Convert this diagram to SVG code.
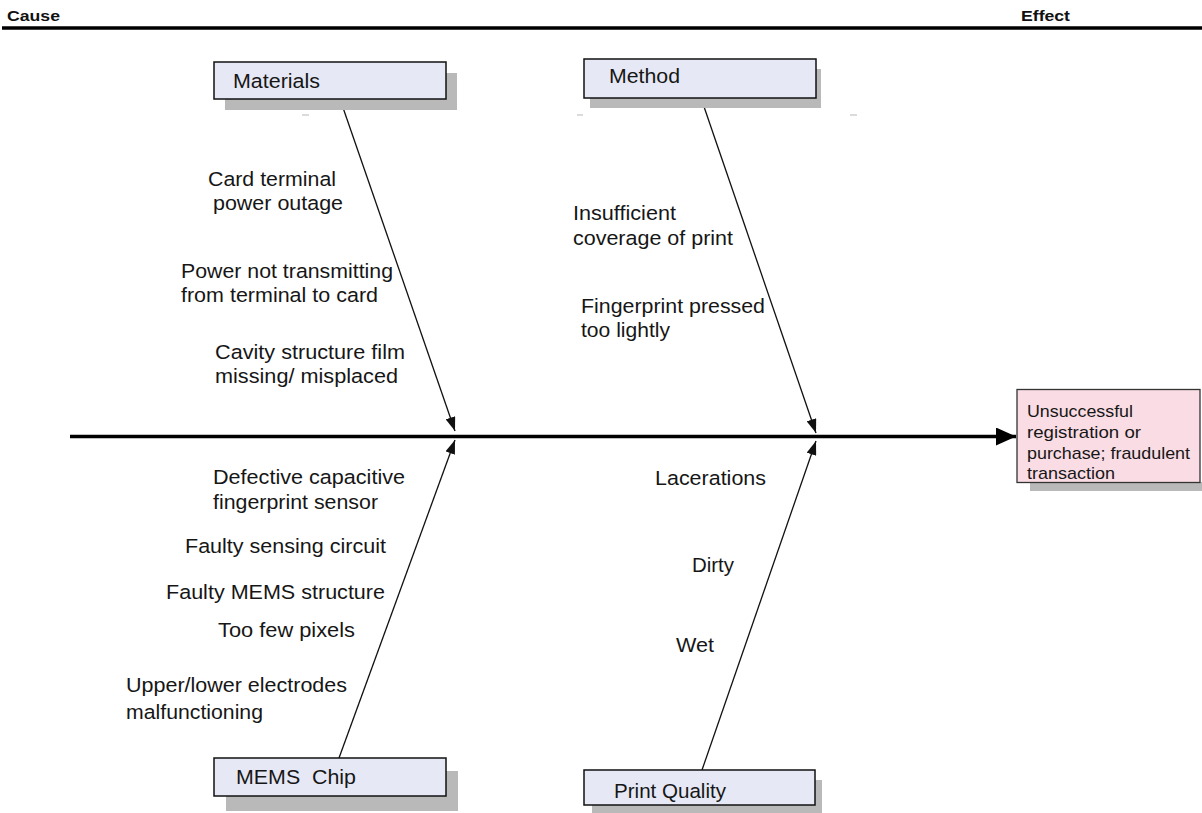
<svg xmlns="http://www.w3.org/2000/svg" width="1202" height="813" viewBox="0 0 1202 813">
<style>
  .lbl { font-family: "Liberation Sans", Arial, sans-serif; font-size: 20.5px; fill: #161616; }
  .hdr { font-family: "Liberation Sans", Arial, sans-serif; font-size: 15px; font-weight: bold; fill: #111; }
  .eff { font-family: "Liberation Sans", Arial, sans-serif; font-size: 17px; fill: #161616; }
  .box { fill: #e6e9f5; stroke: #111; stroke-width: 1.5; }
  .shadow { fill: #b9b9b9; }
  .bone { stroke: #111; stroke-width: 1.3; fill: none; marker-end: url(#ah); }
  .dash { stroke: #cfcfcf; stroke-width: 1.5; }
</style>
<defs>
  <marker id="ah" viewBox="0 0 14 10" refX="14" refY="5" markerWidth="14" markerHeight="10" markerUnits="userSpaceOnUse" orient="auto">
    <path d="M0,0 L14,5 L0,10 Z" fill="#111"/>
  </marker>
  <marker id="bigah" viewBox="0 0 20 18" refX="20" refY="9" markerWidth="20" markerHeight="18" markerUnits="userSpaceOnUse" orient="auto">
    <path d="M0,0 L20,9 L0,18 Z" fill="#000"/>
  </marker>
</defs>
<rect width="1202" height="813" fill="#fff"/>

<g id="header">
  <line x1="2" y1="28" x2="1202" y2="28" stroke="#000" stroke-width="3.5"/>
  <text class="hdr" x="7" y="20.5" textLength="53" lengthAdjust="spacingAndGlyphs">Cause</text>
  <text class="hdr" x="1021" y="20.5" textLength="49" lengthAdjust="spacingAndGlyphs">Effect</text>
</g>

<g id="artifacts">
  <line class="dash" x1="302" y1="115" x2="309" y2="115"/>
  <line class="dash" x1="577" y1="115" x2="583" y2="115"/>
  <line class="dash" x1="850" y1="115" x2="857" y2="115"/>
</g>

<g id="connectors">
  <line x1="70" y1="436.5" x2="1016" y2="436.5" stroke="#000" stroke-width="3.5" marker-end="url(#bigah)"/>
  <line class="bone" x1="340" y1="99" x2="455" y2="431"/>
  <line class="bone" x1="701" y1="98" x2="816" y2="433"/>
  <line class="bone" x1="339" y1="758" x2="455" y2="440"/>
  <line class="bone" x1="702" y1="770" x2="816" y2="441"/>
</g>

<g id="materials">
  <rect class="shadow" x="225" y="73" width="232" height="37"/>
  <rect class="box" x="214" y="62" width="232" height="37"/>
  <text class="lbl" x="233" y="87.5" textLength="87" lengthAdjust="spacingAndGlyphs">Materials</text>
</g>

<g id="method">
  <rect class="shadow" x="590" y="69" width="231" height="39"/>
  <rect class="box" x="584" y="59" width="232" height="39"/>
  <text class="lbl" x="609" y="82.5" textLength="71" lengthAdjust="spacingAndGlyphs">Method</text>
</g>

<g id="mems-chip">
  <rect class="shadow" x="226" y="771" width="232" height="40"/>
  <rect class="box" x="214" y="758" width="232" height="38"/>
  <text class="lbl" x="236" y="783.5" textLength="120" lengthAdjust="spacingAndGlyphs" xml:space="preserve">MEMS  Chip</text>
</g>

<g id="print-quality">
  <rect class="shadow" x="592" y="780" width="230" height="33"/>
  <rect class="box" x="584" y="770" width="231" height="35"/>
  <text class="lbl" x="614" y="797.5" textLength="112" lengthAdjust="spacingAndGlyphs">Print Quality</text>
</g>

<g id="effect">
  <rect class="shadow" x="1030" y="482" width="172" height="9"/>
  <rect x="1017" y="389.5" width="183" height="93" fill="#fadce4" stroke="#333" stroke-width="1.3"/>
  <text class="eff" x="1027" y="416.5" textLength="106" lengthAdjust="spacingAndGlyphs">Unsuccessful</text>
  <text class="eff" x="1027" y="437.5" textLength="114" lengthAdjust="spacingAndGlyphs">registration or</text>
  <text class="eff" x="1027" y="458.5" textLength="163" lengthAdjust="spacingAndGlyphs">purchase; fraudulent</text>
  <text class="eff" x="1027" y="479" textLength="88" lengthAdjust="spacingAndGlyphs">transaction</text>
</g>

<g id="materials-causes">
  <text class="lbl" x="208" y="186" textLength="128" lengthAdjust="spacingAndGlyphs">Card terminal</text>
  <text class="lbl" x="213" y="210" textLength="130" lengthAdjust="spacingAndGlyphs">power outage</text>
  <text class="lbl" x="181" y="277.5" textLength="212" lengthAdjust="spacingAndGlyphs">Power not transmitting</text>
  <text class="lbl" x="181" y="302" textLength="197" lengthAdjust="spacingAndGlyphs">from terminal to card</text>
  <text class="lbl" x="215" y="359" textLength="190" lengthAdjust="spacingAndGlyphs">Cavity structure film</text>
  <text class="lbl" x="215" y="383" textLength="183" lengthAdjust="spacingAndGlyphs">missing/ misplaced</text>
</g>

<g id="method-causes">
  <text class="lbl" x="573" y="220" textLength="103" lengthAdjust="spacingAndGlyphs">Insufficient</text>
  <text class="lbl" x="573" y="245" textLength="160" lengthAdjust="spacingAndGlyphs">coverage of print</text>
  <text class="lbl" x="581" y="313" textLength="184" lengthAdjust="spacingAndGlyphs">Fingerprint pressed</text>
  <text class="lbl" x="581" y="337" textLength="89" lengthAdjust="spacingAndGlyphs">too lightly</text>
</g>

<g id="mems-causes">
  <text class="lbl" x="213" y="484" textLength="192" lengthAdjust="spacingAndGlyphs">Defective capacitive</text>
  <text class="lbl" x="213" y="508.5" textLength="165" lengthAdjust="spacingAndGlyphs">fingerprint sensor</text>
  <text class="lbl" x="185" y="552.5" textLength="201" lengthAdjust="spacingAndGlyphs">Faulty sensing circuit</text>
  <text class="lbl" x="166" y="598.5" textLength="219" lengthAdjust="spacingAndGlyphs">Faulty MEMS structure</text>
  <text class="lbl" x="218" y="637" textLength="137" lengthAdjust="spacingAndGlyphs">Too few pixels</text>
  <text class="lbl" x="126" y="692" textLength="221" lengthAdjust="spacingAndGlyphs">Upper/lower electrodes</text>
  <text class="lbl" x="126" y="718.5" textLength="137" lengthAdjust="spacingAndGlyphs">malfunctioning</text>
</g>

<g id="print-quality-causes">
  <text class="lbl" x="655" y="485" textLength="111" lengthAdjust="spacingAndGlyphs">Lacerations</text>
  <text class="lbl" x="692" y="571.5" textLength="42" lengthAdjust="spacingAndGlyphs">Dirty</text>
  <text class="lbl" x="676" y="651.5" textLength="38" lengthAdjust="spacingAndGlyphs">Wet</text>
</g>
</svg>
